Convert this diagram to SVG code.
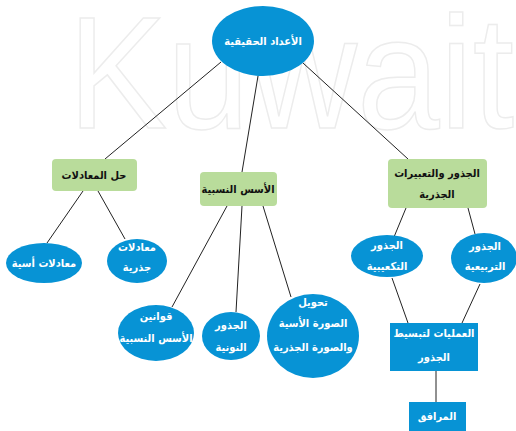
<svg xmlns="http://www.w3.org/2000/svg" width="516" height="431" viewBox="0 0 516 431">
<style>
.bg{fill:#ffffff}
.wm{font-family:"Liberation Sans",Arial,sans-serif;font-size:160px;fill:none;stroke:#ececec;stroke-width:1.5}
.blue{fill:#0793d5}
.green{fill:#b9dc9b}
.conn line{stroke:#222;stroke-width:1}
.tw{font-family:"DejaVu Sans Condensed","DejaVu Sans",sans-serif;font-stretch:condensed;font-size:11px;font-weight:bold;fill:#ffffff;text-anchor:middle}
.tb{font-family:"DejaVu Sans Condensed","DejaVu Sans",sans-serif;font-stretch:condensed;font-size:11px;font-weight:bold;fill:#111111;text-anchor:middle}
</style>
<rect class="bg" x="0" y="0" width="516" height="431"/>
<text class="wm" x="68" y="128" textLength="446" lengthAdjust="spacingAndGlyphs">Kuwait</text>
<g id="connectors" class="conn">
<line x1="221" y1="62" x2="105" y2="159"/>
<line x1="258" y1="76" x2="242" y2="172"/>
<line x1="303" y1="63" x2="408" y2="159"/>
<line x1="83" y1="191" x2="47" y2="243"/>
<line x1="98" y1="191" x2="125" y2="239"/>
<line x1="227" y1="206" x2="172" y2="307"/>
<line x1="242" y1="206" x2="236" y2="312"/>
<line x1="263" y1="206" x2="291" y2="297"/>
<line x1="406" y1="208" x2="394" y2="237"/>
<line x1="468" y1="208" x2="475" y2="234"/>
<line x1="392" y1="278" x2="408" y2="323"/>
<line x1="480" y1="284" x2="462" y2="323"/>
<line x1="436" y1="371" x2="436" y2="402"/>
</g>
<g id="n-root">
<ellipse class="blue" cx="263" cy="41" rx="51" ry="35"/>
<text class="tw" x="263" y="45">الأعداد الحقيقية</text>
</g>
<g id="n-equations">
<rect class="green" x="52" y="159" width="85" height="32" rx="4"/>
<text class="tb" x="94" y="179">حل المعادلات</text>
</g>
<g id="n-rational-exponents">
<rect class="green" x="200" y="172" width="77" height="34" rx="4"/>
<text class="tb" x="238" y="193">الأسس النسبية</text>
</g>
<g id="n-radicals">
<rect class="green" x="388" y="159" width="99" height="49" rx="4"/>
<text class="tb" x="437" y="177">الجذور والتعبيرات</text>
<text class="tb" x="437" y="198">الجذرية</text>
</g>
<g id="n-exp-eq">
<ellipse class="blue" cx="44" cy="263" rx="38" ry="20"/>
<text class="tw" x="44" y="267">معادلات أسية</text>
</g>
<g id="n-rad-eq">
<ellipse class="blue" cx="137" cy="261" rx="30" ry="22"/>
<text class="tw" x="137" y="251">معادلات</text>
<text class="tw" x="137" y="271">جذرية</text>
</g>
<g id="n-cube">
<ellipse class="blue" cx="387" cy="256" rx="36" ry="21"/>
<text class="tw" x="387" y="249">الجذور</text>
<text class="tw" x="387" y="270">التكعيبية</text>
</g>
<g id="n-square">
<ellipse class="blue" cx="484" cy="258" rx="33" ry="25"/>
<text class="tw" x="485" y="250">الجذور</text>
<text class="tw" x="485" y="270">التربيعية</text>
</g>
<g id="n-laws">
<ellipse class="blue" cx="156" cy="333" rx="38" ry="28"/>
<text class="tw" x="156" y="320">قوانين</text>
<text class="tw" x="156" y="342">الأسس النسبية</text>
</g>
<g id="n-nth">
<ellipse class="blue" cx="231" cy="336" rx="29" ry="24"/>
<text class="tw" x="231" y="329">الجذور</text>
<text class="tw" x="231" y="351">النونية</text>
</g>
<g id="n-convert">
<ellipse class="blue" cx="313" cy="336" rx="46" ry="42"/>
<text class="tw" x="313" y="306">تحويل</text>
<text class="tw" x="313" y="327">الصورة الأسية</text>
<text class="tw" x="313" y="351">والصورة الجذرية</text>
</g>
<g id="n-ops">
<rect class="blue" x="390" y="323" width="88" height="48"/>
<text class="tw" x="434" y="337">العمليات لتبسيط</text>
<text class="tw" x="434" y="361">الجذور</text>
</g>
<g id="n-conjugate">
<rect class="blue" x="409" y="402" width="57" height="29"/>
<text class="tw" x="437" y="420">المرافق</text>
</g>
</svg>
